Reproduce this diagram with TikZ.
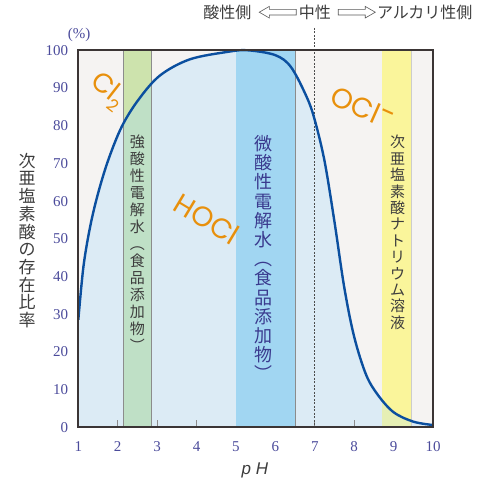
\documentclass[tikz,border=0pt]{standalone}
\usepackage{fontspec}
\setmainfont{Liberation Serif}
\newfontfamily\jpfont{Noto Sans CJK JP}
\newfontfamily\chemfont{Poppins}
\newfontfamily\phfont{Liberation Sans}
\usetikzlibrary{positioning,shapes.arrows}
\definecolor{bggray}{HTML}{F5F3F2}
\definecolor{hoclblue}{HTML}{DCEBF5}
\definecolor{greenup}{HTML}{CDE3AD}
\definecolor{greenlow}{HTML}{BFE0C6}
\definecolor{microblue}{HTML}{A1D6F2}
\definecolor{yellowup}{HTML}{FAF59B}
\definecolor{yellowlow}{HTML}{E6EFB4}
\definecolor{curveblue}{HTML}{0B4F9F}
\definecolor{chemorange}{HTML}{E8900C}
\definecolor{numblue}{HTML}{4B4B9B}
\definecolor{textgray}{HTML}{3D3D3D}
\definecolor{bandindigo}{HTML}{3A3A8E}
\definecolor{framegray}{HTML}{3B3535}
\newcommand{\hoclcurve}{-- plot[smooth,tension=0.55] coordinates {(1,28.5) (1.13,42.6) (1.3,53.2) (1.5,62) (1.76,70.9) (2.1,79.7) (2.52,86.8) (3.07,93.3) (3.83,97.6) (4.8,99.6) (5.3,100) (6.0,98.7) (6.4,95.5) (6.8,87.5) (7.0,81.5) (7.25,70.5) (7.5,54.5) (7.75,37) (8.0,24) (8.3,14) (8.6,8.6) (9.0,4.0) (9.5,1.5) (10,0.6)}}
\begin{document}
\begin{tikzpicture}[x=39.41pt,y=3.77pt,
    bandedge/.style={draw=black!45,line width=0.8pt},
    vtext/.style={anchor=north,align=center,inner sep=0pt,text=textgray},
    chem/.style={font=\chemfont\fontsize{28}{28}\selectfont,text=chemorange,inner sep=0pt},
    numlabel/.style={font=\fontsize{15}{15}\selectfont,text=numblue,inner sep=0pt},
    toplabel/.style={font=\jpfont\fontsize{16}{16}\selectfont,text=textgray,inner sep=0pt},
    hollowarrow/.style={shape=single arrow,draw=black!65,fill=white,line width=0.6pt,minimum height=37pt,inner xsep=0pt,inner ysep=2.5pt,single arrow head extend=3pt,single arrow tip angle=60}]
\useasboundingbox (-0.987,-13.98) rectangle (11.117,113.34);
\fill[bggray] (1,0) rectangle (10,100);
\fill[hoclblue] (1,0) \hoclcurve -- (10,0) -- cycle;
\foreach \x in {2,...,9} \draw[black!45,line width=0.8pt] (\x,0) -- (\x,1.9);
\fill[greenup] (2.14,0) rectangle (2.86,100);
\fill[microblue] (5,0) rectangle (6.5,100);
\fill[yellowup] (8.71,0) rectangle (9.45,100);
\begin{scope}
\clip (1,0) \hoclcurve -- (10,0) -- cycle;
\fill[greenlow] (2.14,0) rectangle (2.86,100);
\fill[yellowlow] (8.71,0) rectangle (9.45,100);
\end{scope}
\draw[bandedge] (2.14,0) -- (2.14,100) (2.86,0) -- (2.86,100) (6.5,0) -- (6.5,100);
\draw[bandedge,draw=black!20] (9.45,0) -- (9.45,100);
\node[toplabel] (neutral) at (7,110.1) {中性};
\node[hollowarrow,shape border rotate=180,left=2pt of neutral] (toacid) {};
\node[toplabel,left=7pt of toacid] (acidside) {酸性側};
\node[hollowarrow,right=7pt of neutral] (toalkali) {};
\node[toplabel,right=1pt of toalkali] (alkaliside) {アルカリ性側};
\coordinate (phseven) at (7,0);
\draw[black!70,dash pattern=on 2pt off 1.5pt,line width=0.9pt] ([yshift=-8pt]neutral.south) -- (phseven);
\draw[curveblue,line width=2.4pt] (1,28.5) \hoclcurve;
\draw[framegray,line width=1.7pt] (1,0) rectangle (10,100);
\foreach \x in {1,...,10} \node[numlabel,anchor=north,yshift=-14.5pt] (xtick\x) at (\x,0) {\x};
\foreach \y in {0,10,...,100} \node[numlabel,anchor=east,xshift=-10pt] (ytick\y) at (1,\y) {\y};
\node[numlabel] (unit) at (1.02,104.2) {(\%)};
\node[font=\phfont\itshape\fontsize{17}{17}\selectfont,text=textgray,inner sep=0pt] (phlabel) at (5.48,-11.33) {p H};
\node[vtext,font=\jpfont\fontsize{17}{17.7}\selectfont] (ytitle) at (-0.3,72.8) {次\\亜\\塩\\素\\酸\\の\\存\\在\\比\\率};
\node[vtext,font=\jpfont\fontsize{15}{17}\selectfont] (stronglabel) at (2.5,77.5) {強\\酸\\性\\電\\解\\水\\︵\\食\\品\\添\\加\\物\\︶};
\node[vtext,text=bandindigo,font=\jpfont\fontsize{18}{19.2}\selectfont] (weaklabel) at (5.7,77.5) {微\\酸\\性\\電\\解\\水\\︵\\食\\品\\添\\加\\物\\︶};
\node[vtext,font=\jpfont\fontsize{15}{16.4}\selectfont] (sodiumlabel) at (9.1,77.5) {次\\亜\\塩\\素\\酸\\ナ\\ト\\リ\\ウ\\ム\\溶\\液};
\node[chem,font=\chemfont\fontsize{27}{27}\selectfont,rotate=-38] (chlorine) at (1.74,89.2) {Cl\raisebox{-0.3em}{\fontsize{17}{17}\selectfont 2}};
\node[chem,rotate=-31] (hypochlorous) at (4.27,55.25) {HOCl};
\node[chem,rotate=-24] (hypochlorite) at (8.22,84.7) {OCl\raisebox{0.25em}{-}};
\end{tikzpicture}
\end{document}
